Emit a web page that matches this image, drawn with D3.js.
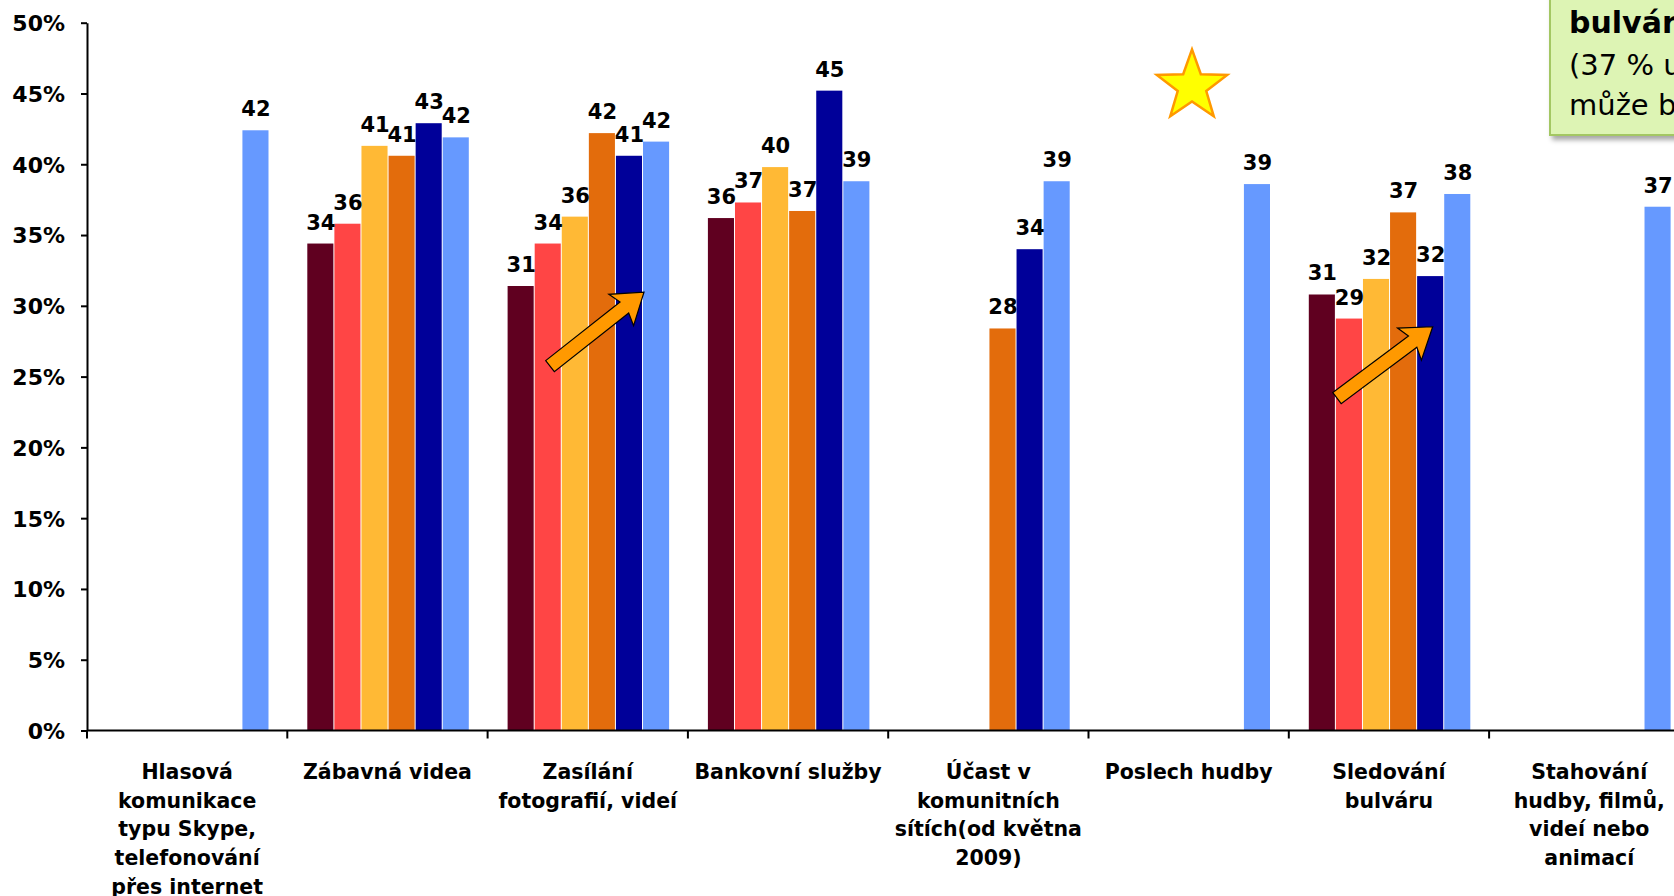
<!DOCTYPE html>
<html>
<head>
<meta charset="utf-8">
<script src="https://cdn.jsdelivr.net/npm/d3@7"></script>
<style>
  body { margin: 0; background: #fff; }
  svg { display: block; font-family: "DejaVu Sans", Verdana, sans-serif; }
</style>
</head>
<body>
<script>
// categories (x axis, multi-line labels)
const categories = [
  ["Hlasová", "komunikace", "typu Skype,", "telefonování", "přes internet"],
  ["Zábavná videa"],
  ["Zasílání", "fotografií, videí"],
  ["Bankovní služby"],
  ["Účast v", "komunitních", "sítích(od května", "2009)"],
  ["Poslech hudby"],
  ["Sledování", "bulváru"],
  ["Stahování", "hudby, filmů,", "videí nebo", "animací"]
];

const seriesNames = ["vlna 1", "vlna 2", "vlna 3", "vlna 4", "vlna 5", "vlna 6"];
const seriesColors = ["#600020", "#FF4545", "#FFB935", "#E36C0C", "#000099", "#6699FF"];

// values in %, null = not measured
const vlna1 = [null, 34.4, 31.4, 36.2, null, null, 30.8, null];
const vlna2 = [null, 35.8, 34.4, 37.3, null, null, 29.1, null];
const vlna3 = [null, 41.3, 36.3, 39.8, null, null, 31.9, null];
const vlna4 = [null, 40.6, 42.2, 36.7, 28.4, null, 36.6, null];
const vlna5 = [null, 42.9, 40.6, 45.2, 34.0, null, 32.1, null];
const vlna6 = [42.4, 41.9, 41.6, 38.8, 38.8, 38.6, 37.9, 37.0];
const seriesValues = [vlna1, vlna2, vlna3, vlna4, vlna5, vlna6];

const yTicks = [0, 5, 10, 15, 20, 25, 30, 35, 40, 45, 50];

const W = 1674, H = 896;
const mLeft = 87, mTop = 22.7, mBottom = 730.5, band = 200.3;

const svg = d3.select("body").append("svg")
    .attr("width", W)
    .attr("height", H);

svg.append("rect").attr("width", W).attr("height", H).attr("fill", "#fff");

const defs = svg.append("defs");
const f = defs.append("filter").attr("id", "shadow")
    .attr("x", "-10%").attr("y", "-10%").attr("width", "130%").attr("height", "130%");
f.append("feDropShadow").attr("dx", 3).attr("dy", 4).attr("stdDeviation", 2.5)
    .attr("flood-color", "#000").attr("flood-opacity", 0.35);

const x0 = d3.scaleBand()
    .domain(d3.range(categories.length))
    .range([mLeft, mLeft + band * categories.length]);

const x1 = d3.scaleBand()
    .domain(seriesNames)
    .range([20, 182.5]);

const y = d3.scaleLinear()
    .domain([0, 50])
    .range([mBottom, mTop]);

// bars
const rows = [];
seriesNames.forEach((s, si) => {
  seriesValues[si].forEach((v, ci) => {
    if (v != null) rows.push({s, si, ci, v});
  });
});

svg.append("g").selectAll("rect")
    .data(rows)
  .enter().append("rect")
    .attr("x", d => x0(d.ci) + x1(d.s))
    .attr("y", d => y(d.v))
    .attr("width", x1.bandwidth() - 1)
    .attr("height", d => y(0) - y(d.v))
    .attr("fill", d => seriesColors[d.si]);

// value labels
svg.append("g").selectAll("text")
    .data(rows)
  .enter().append("text")
    .attr("x", d => x0(d.ci) + x1(d.s) + x1.bandwidth() / 2)
    .attr("y", d => y(d.v) - 14)
    .attr("text-anchor", "middle")
    .style("font-size", "21px")
    .style("font-weight", "bold")
    .text(d => Math.round(d.v));

// y axis
const yAxis = svg.append("g")
    .attr("transform", `translate(${mLeft},0)`)
    .call(d3.axisLeft(y).tickValues(yTicks).tickFormat(d => d + "%").tickSize(6).tickSizeOuter(0));
yAxis.select(".domain").attr("stroke", "#000").attr("stroke-width", 2);
yAxis.selectAll(".tick line").attr("stroke", "#000").attr("stroke-width", 2);
yAxis.selectAll(".tick text")
    .attr("x", -22)
    .attr("dy", "0.36em")
    .style("font-family", "'DejaVu Sans', Verdana, sans-serif")
    .style("font-size", "22px")
    .style("font-weight", "bold")
    .attr("fill", "#000");

// x axis line + ticks at category boundaries
svg.append("line")
    .attr("x1", mLeft).attr("x2", W)
    .attr("y1", y(0)).attr("y2", y(0))
    .attr("stroke", "#000").attr("stroke-width", 2);

svg.append("g").selectAll("line")
    .data(d3.range(categories.length + 1))
  .enter().append("line")
    .attr("x1", i => mLeft + i * band).attr("x2", i => mLeft + i * band)
    .attr("y1", y(0)).attr("y2", y(0) + 8)
    .attr("stroke", "#000").attr("stroke-width", 2);

// category labels
const catG = svg.append("g").selectAll("text")
    .data(categories)
  .enter().append("text")
    .attr("x", (d, i) => x0(i) + x0.bandwidth() / 2)
    .attr("y", 779)
    .attr("text-anchor", "middle")
    .style("font-size", "20.5px")
    .style("font-weight", "bold");
catG.selectAll("tspan")
    .data(d => d)
  .enter().append("tspan")
    .attr("x", function() { return d3.select(this.parentNode).attr("x"); })
    .attr("dy", (d, i) => i ? 28.7 : 0)
    .text(d => d);

// arrows (annotation, in data coords: category, offset in band, value)
const arrows = [
  {ci: 2, ox0: 62.4, v0: 25.74, ox1: 156.4, v1: 30.97},
  {ci: 6, ox0: 48.2, v0: 23.48, ox1: 143.9, v1: 28.52}
];
arrows.forEach(a => {
  const xa = x0(a.ci) + a.ox0, ya = y(a.v0);
  const xb = x0(a.ci) + a.ox1, yb = y(a.v1);
  const L = Math.hypot(xb - xa, yb - ya);
  const ang = Math.atan2(yb - ya, xb - xa) * 180 / Math.PI;
  const hw = 7, HW = 20, HL = 25;
  const pts = [[0, -hw], [L - HL, -hw], [L - HL - 4, -HW], [L, 0], [L - HL - 4, HW], [L - HL, hw], [0, hw]];
  svg.append("polygon")
      .attr("points", pts.map(p => p.join(",")).join(" "))
      .attr("transform", `translate(${xa},${ya}) rotate(${ang})`)
      .attr("fill", "#FF9900")
      .attr("stroke", "#000")
      .attr("stroke-width", 1.2)
      .attr("stroke-linejoin", "miter");
});

// star
const star = {ci: 5, ox: 103.5, v: 45.5, R: 37, r: 15};
const starPts = d3.range(10).map(i => {
  const rr = i % 2 ? star.r : star.R;
  const t = -Math.PI / 2 + i * Math.PI / 5;
  return [rr * Math.cos(t), rr * Math.sin(t)];
});
svg.append("polygon")
    .attr("points", starPts.map(p => p.join(",")).join(" "))
    .attr("transform", `translate(${x0(star.ci) + star.ox},${y(star.v)})`)
    .attr("fill", "#FFFF00")
    .attr("stroke", "#FF9900")
    .attr("stroke-width", 2.5);

// callout box (cut by the right/top edge)
const note = svg.append("g");
note.append("rect")
    .attr("x", 1550).attr("y", -30)
    .attr("width", 220).attr("height", 165)
    .attr("fill", "#DDF4B4")
    .attr("stroke", "#A3C763")
    .attr("stroke-width", 2)
    .attr("filter", "url(#shadow)");
note.append("text")
    .attr("x", 1569).attr("y", 33)
    .style("font-size", "30px").style("font-weight", "bold")
    .text("bulváru");
note.append("text")
    .attr("x", 1569).attr("y", 75)
    .style("font-size", "29px")
    .text("(37 % uživatelů)");
note.append("text")
    .attr("x", 1569).attr("y", 115)
    .style("font-size", "29px")
    .text("může být");
</script>
</body>
</html>
